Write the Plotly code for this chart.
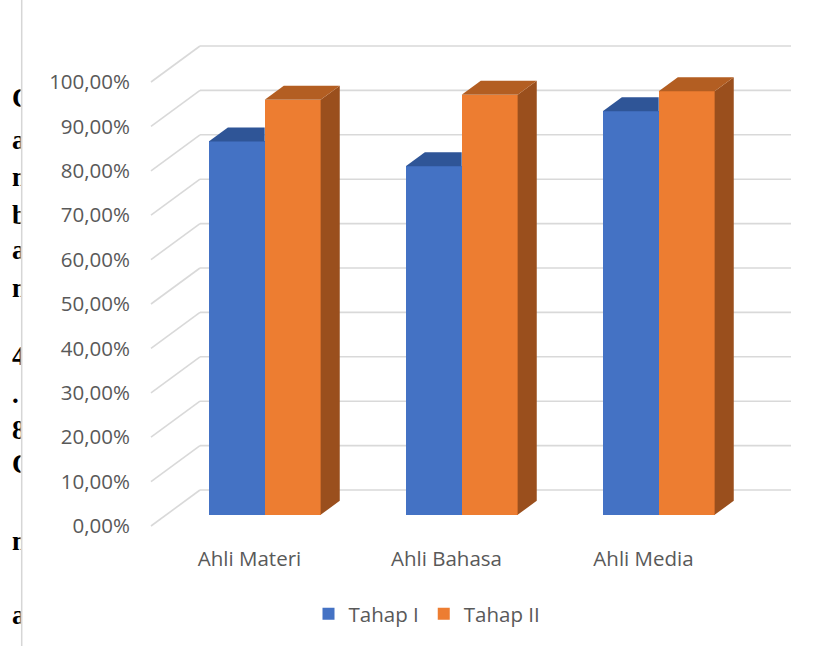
import plotly.graph_objects as go

# ---------------- data ----------------
categories = ["Ahli Materi", "Ahli Bahasa", "Ahli Media"]
series_names = ["Tahap I", "Tahap II"]
tahap1 = [0.841, 0.785, 0.909]
tahap2 = [0.935, 0.946, 0.954]
y_ticks = [0.0, 0.1, 0.2, 0.3, 0.4, 0.5, 0.6, 0.7, 0.8, 0.9, 1.0]
y_tick_labels = ["0,00%", "10,00%", "20,00%", "30,00%", "40,00%", "50,00%",
                 "60,00%", "70,00%", "80,00%", "90,00%", "100,00%"]
# clipped fragments of the document text behind the chart (left edge)
side_letters = ["C", "a", "m", "b", "a", "m", "4", ".", "8", "C", "m", "a"]

# ---------------- style / layout ----------------
W_PX, H_PX = 822, 646
FONT = "Open Sans"
TXT = "#595959"
FRONT = ["#4472C4", "#ED7D31"]
TOP = ["#2F5597", "#B35E22"]
SIDE = ["#264478", "#9A4F1D"]
GRID = "#D9D9D9"

CAT_PX = 197.0          # px per category
VAL_PX = 444.0          # px per 1.0 (100 %)
FRONT_X0 = 151.0        # px of x=-0.5 on the front plane
FRONT_Y0 = 526.0        # px of value 0 on the front plane
DEPTH_DX_PX, DEPTH_DY_PX = 49.0, 36.0
PLOT_L, PLOT_B = 131.0, 544.0

DXu = DEPTH_DX_PX / CAT_PX
DYu = DEPTH_DY_PX / VAL_PX
BAR_W = 0.284
D_FRONT, D_BACK = 0.31, 0.70

xr0 = -0.5 - (FRONT_X0 - PLOT_L) / CAT_PX
xr1 = xr0 + (W_PX - PLOT_L) / CAT_PX
yr0 = (FRONT_Y0 - PLOT_B) / VAL_PX
yr1 = FRONT_Y0 / VAL_PX


def proj(x, v, d):
    return x + d * DXu, v + d * DYu


fig = go.Figure()

series = [tahap1, tahap2]
base = D_FRONT * DYu
ddx = (D_BACK - D_FRONT) * DXu
ddy = (D_BACK - D_FRONT) * DYu
xshift = D_FRONT * DXu

# front faces as bars
for j, vals in enumerate(series):
    xs = [i + xshift + (j - 0.5) * BAR_W for i in range(len(categories))]
    fig.add_trace(go.Bar(
        x=xs, y=vals, base=[base] * len(vals), width=BAR_W,
        marker=dict(color=FRONT[j], line=dict(width=0)),
        name=series_names[j], hoverinfo="skip", xaxis="x", yaxis="y"))

# top and side faces
for j, vals in enumerate(series):
    for i, v in enumerate(vals):
        xl = i + xshift + (j - 1) * BAR_W
        xr = xl + BAR_W
        T = base + v
        hidden_right = (j == 0 and series[1][i] >= v + (D_BACK - D_FRONT) * DYu)
        if hidden_right:
            tx = [xl, xr, xr, xl + ddx, xl]
            ty = [T, T, T + ddy, T + ddy, T]
        else:
            tx = [xl, xr, xr + ddx, xl + ddx, xl]
            ty = [T, T, T + ddy, T + ddy, T]
            sx = [xr, xr, xr + ddx, xr + ddx, xr]
            sy = [base, T, T + ddy, base + ddy, base]
            fig.add_trace(go.Scatter(x=sx, y=sy, fill="toself", mode="lines",
                                     fillcolor=SIDE[j], line=dict(width=0, color=SIDE[j]),
                                     showlegend=False, hoverinfo="skip"))
        fig.add_trace(go.Scatter(x=tx, y=ty, fill="toself", mode="lines",
                                 fillcolor=TOP[j], line=dict(width=0, color=TOP[j]),
                                 showlegend=False, hoverinfo="skip"))

# gridlines (back wall + left wall diagonals)
shapes = []
nc = len(categories)
for v in y_ticks:
    bx0, by0 = proj(-0.5, v, 1)
    bx1, by1 = proj(nc - 0.5, v, 1)
    shapes.append(dict(type="line", xref="x", yref="y", x0=bx0, y0=by0, x1=bx1, y1=by1,
                       line=dict(color=GRID, width=1.6), layer="below"))
    fx, fy = proj(-0.5, v, 0)
    shapes.append(dict(type="line", xref="x", yref="y", x0=fx, y0=fy, x1=bx0, y1=by0,
                       line=dict(color=GRID, width=1.6), layer="below"))
# chart border on the left
shapes.append(dict(type="line", xref="paper", yref="paper", x0=21.7 / W_PX, x1=21.7 / W_PX,
                   y0=0, y1=1, line=dict(color="#D6D6D6", width=1.5), layer="above"))

# clipped document letters at the far left
letter_y = [100, 142, 179, 217, 252, 290, 358, 396, 432, 466, 543, 617]
fig.add_trace(go.Scatter(
    x=[12] * len(side_letters), y=letter_y, text=side_letters, mode="text",
    textposition="middle right", cliponaxis=True,
    textfont=dict(family="Liberation Serif", size=27, color="#000000", weight="bold"),
    showlegend=False, hoverinfo="skip", xaxis="x2", yaxis="y2"))

fig.update_layout(
    width=W_PX, height=H_PX,
    margin=dict(l=0, r=0, t=0, b=0),
    paper_bgcolor="white", plot_bgcolor="rgba(0,0,0,0)",
    barmode="overlay", bargap=0,
    hovermode=False,
    font=dict(family=FONT, size=20.5, color=TXT),
    xaxis=dict(domain=[PLOT_L / W_PX, 1], range=[xr0, xr1], tickvals=list(range(nc)),
               ticktext=categories, showgrid=False, zeroline=False, showline=False,
               ticks="", tickfont=dict(family=FONT, size=20.5, color=TXT), fixedrange=True),
    yaxis=dict(domain=[1 - PLOT_B / H_PX, 1], range=[yr0, yr1], tickvals=y_ticks,
               ticktext=y_tick_labels, showgrid=False, zeroline=False, showline=False,
               ticks="", tickfont=dict(family=FONT, size=20.5, color=TXT), fixedrange=True),
    xaxis2=dict(domain=[0, 20.5 / W_PX], range=[0, 20.5], visible=False, anchor="y2"),
    yaxis2=dict(domain=[0, 1], range=[H_PX, 0], visible=False, anchor="x2"),
    shapes=shapes,
    showlegend=True,
    legend=dict(orientation="h", x=427 / W_PX, xanchor="center", y=1 - 614 / H_PX,
                yanchor="middle", font=dict(family=FONT, size=20.5, color=TXT),
                traceorder="normal", bgcolor="rgba(0,0,0,0)"),
)

fig.write_html("out.html")
